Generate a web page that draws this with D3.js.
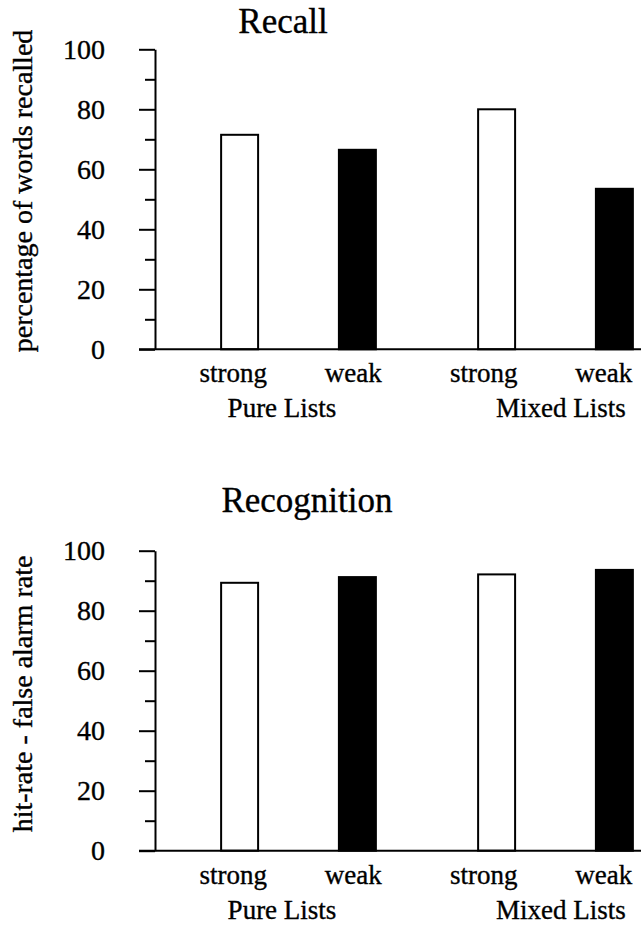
<!DOCTYPE html>
<html>
<head>
<meta charset="utf-8">
<script src="https://cdn.jsdelivr.net/npm/d3@7"></script>
<style>
  html, body { margin: 0; padding: 0; background: #fff; }
  svg { display: block; }
  svg text {
    font-family: "Liberation Serif", "Times New Roman", "DejaVu Serif", serif !important;
    fill: #000;
    stroke: #000;
    stroke-width: 0.35px;
  }
</style>
</head>
<body>
<script>
// List conditions and word strengths
const groups = ["Pure Lists", "Mixed Lists"];
const strengths = ["strong", "weak"];

// Recall: percentage of words recalled, per group (strong, weak)
const recallPure = [71.5, 66.5];
const recallMixed = [80, 53.5];

// Recognition: hit-rate minus false alarm rate, per group (strong, weak)
const recognitionPure = [89.3, 91.2];
const recognitionMixed = [92.1, 93.6];

const majorTicks = [0, 20, 40, 60, 80, 100];
const minorTicks = [10, 30, 50, 70, 90];

const W = 641, H = 925;
const SERIF = "'Liberation Serif', 'Times New Roman', 'DejaVu Serif', serif";
const svg = d3.select("body").append("svg")
  .attr("width", W).attr("height", H)
  .attr("font-family", SERIF);

const axisX = 155;
const fill = { strong: "#fff", weak: "#000" };

function drawPanel(cfg) {
  const g = svg.append("g");
  const rows = [
    { group: groups[0], vals: cfg.pure },
    { group: groups[1], vals: cfg.mixed }
  ];

  const y = d3.scaleLinear().domain([0, 100]).range([cfg.bottom, cfg.bottom - 300]);

  const xGroup = d3.scaleBand().domain(groups).range([170, 684]);
  const xBar = d3.scaleBand().domain(strengths).range([0, xGroup.bandwidth()])
    .paddingInner(0.686).paddingOuter(0.434);

  // label positions
  const xLabGroup = d3.scaleBand().domain(groups).range([168, 669]);
  const xLab = d3.scalePoint().domain(strengths).range([0, xLabGroup.bandwidth()]).padding(0.544);
  const xGroupLabel = d3.scalePoint().domain(groups).range([282, 561]);

  // title
  g.append("text")
    .attr("x", cfg.titleX).attr("y", cfg.titleY)
    .attr("text-anchor", "middle")
    .attr("font-family", SERIF)
    .style("font-size", "35px")
    .text(cfg.title);

  // y axis title
  g.append("text")
    .attr("transform", `translate(32,${cfg.yTitleCenter}) rotate(-90)`)
    .attr("text-anchor", "middle")
    .attr("font-family", SERIF)
    .style("font-size", "28px")
    .text(cfg.yTitle);

  // bars
  rows.forEach(r => {
    g.selectAll(null).data(strengths.map((s, i) => ({ s, v: r.vals[i] })))
      .join("rect")
      .attr("x", d => xGroup(r.group) + xBar(d.s))
      .attr("width", xBar.bandwidth())
      .attr("y", d => y(d.v))
      .attr("height", d => y(0) - y(d.v))
      .attr("fill", d => fill[d.s])
      .attr("stroke", "#000")
      .attr("stroke-width", 2);
  });

  // minor ticks
  g.append("g").attr("transform", `translate(${axisX},0)`)
    .call(d3.axisLeft(y).tickValues(minorTicks).tickSize(10).tickFormat(""))
    .call(a => a.select(".domain").remove())
    .call(a => a.selectAll("line").attr("stroke-width", 2));

  // major ticks + labels
  g.append("g").attr("transform", `translate(${axisX},0)`)
    .call(d3.axisLeft(y).tickValues(majorTicks).tickSize(16).tickSizeOuter(0).tickPadding(34))
    .attr("font-family", SERIF)
    .attr("font-size", 28)
    .call(a => a.select(".domain").attr("stroke-width", 2))
    .call(a => a.selectAll("line").attr("stroke-width", 2))
    .call(a => a.selectAll("text")
      .attr("font-family", SERIF)
      .style("font-size", "28px")
      .attr("fill", "#000"));

  // baseline
  g.append("line")
    .attr("x1", axisX - 16).attr("x2", W)
    .attr("y1", y(0)).attr("y2", y(0))
    .attr("stroke", "#000").attr("stroke-width", 2);

  // category labels
  groups.forEach(gr => {
    strengths.forEach(s => {
      g.append("text")
        .attr("x", xLabGroup(gr) + xLab(s))
        .attr("y", y(0) + 33)
        .attr("text-anchor", "middle")
        .attr("font-family", SERIF)
        .style("font-size", "27px")
        .text(s);
    });
    g.append("text")
      .attr("x", xGroupLabel(gr))
      .attr("y", y(0) + 68)
      .attr("text-anchor", "middle")
      .attr("font-family", SERIF)
      .style("font-size", "27px")
      .text(gr);
  });
}

drawPanel({
  title: "Recall", titleX: 283, titleY: 33,
  yTitle: "percentage of words recalled", yTitleCenter: 191,
  bottom: 349.3, pure: recallPure, mixed: recallMixed
});

drawPanel({
  title: "Recognition", titleX: 307, titleY: 512,
  yTitle: "hit-rate - false alarm rate", yTitleCenter: 694,
  bottom: 850.7, pure: recognitionPure, mixed: recognitionMixed
});
</script>
</body>
</html>
